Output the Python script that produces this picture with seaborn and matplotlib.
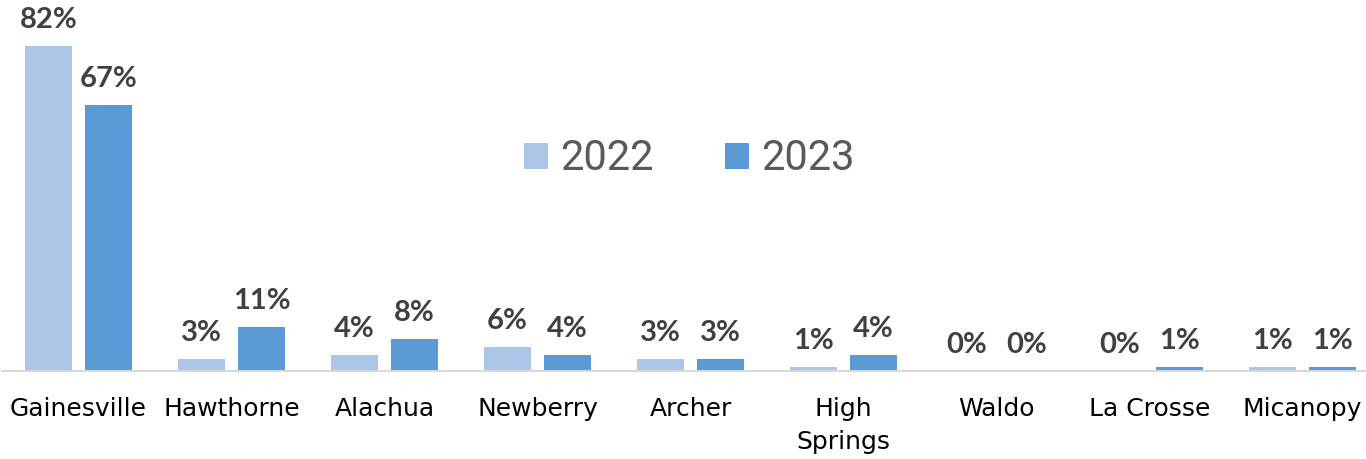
import matplotlib
matplotlib.use("Agg")
import matplotlib.pyplot as plt
import seaborn as sns
import pandas as pd

# Share of responses by city, two survey years
cities = ["Gainesville", "Hawthorne", "Alachua", "Newberry", "Archer",
          "High\nSprings", "Waldo", "La Crosse", "Micanopy"]
years = ["2022", "2023"]
values_2022 = [82, 3, 4, 6, 3, 1, 0, 0, 1]
values_2023 = [67, 11, 8, 4, 3, 4, 0, 1, 1]
colors = ["#ADC6E7", "#5B9BD5"]

df = pd.DataFrame({
    "city": cities * 2,
    "year": [years[0]] * len(cities) + [years[1]] * len(cities),
    "share": values_2022 + values_2023,
})

sns.set_theme(style="white")
plt.rcParams["font.family"] = ["DejaVu Sans"]

W, H = 1366, 459
fig = plt.figure(figsize=(W / 100, H / 100), dpi=100)
ax = fig.add_axes([2 / W, (H - 371) / H, (W - 2) / W, 371 / H])

sns.barplot(data=df, x="city", y="share", hue="year", order=cities,
            hue_order=years, palette=colors, width=0.784, gap=0.217,
            linewidth=0, saturation=1, ax=ax)

for cont in ax.containers:
    ax.bar_label(cont, labels=[f"{v:.0f}%" for v in cont.datavalues],
                 padding=9.5, fontsize=21, fontweight="bold",
                 color="#404040", family=["Lato", "DejaVu Sans"])

ax.set_xlim(-0.5, 8.415)
ax.set_ylim(0, 93.6)
ax.set_xlabel("")
ax.set_ylabel("")
ax.set_yticks([])
for side in ["left", "right", "top"]:
    ax.spines[side].set_visible(False)
ax.spines["bottom"].set_color("#D9D9D9")
ax.spines["bottom"].set_linewidth(1.5)
ax.tick_params(axis="x", length=0, pad=19, labelsize=18, labelcolor="#000000")
for lbl in ax.get_xticklabels():
    lbl.set_linespacing(1.45)

ax.legend(loc="center", bbox_to_anchor=(689.5 / W, 1 - 159 / H),
          bbox_transform=fig.transFigure, ncol=2, frameon=False,
          prop={"family": ["Roboto", "DejaVu Sans"], "size": 30},
          labelcolor="#595959", handlelength=0.58,
          handleheight=0.58, handletextpad=0.3, columnspacing=1.7)

fig.savefig("out.png", dpi=100)
